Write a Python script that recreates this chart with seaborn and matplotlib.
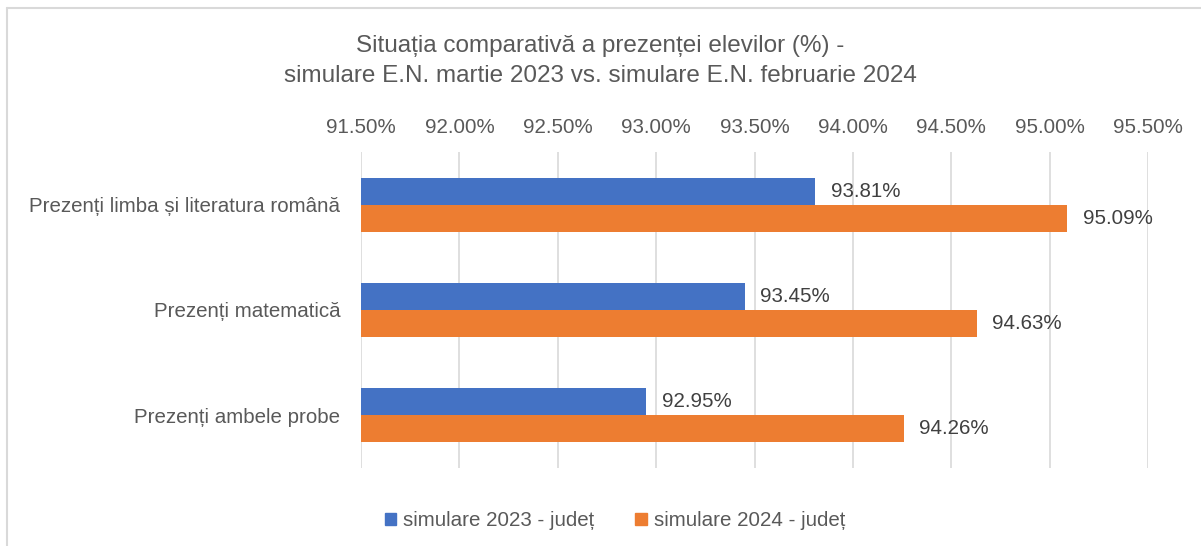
import matplotlib
matplotlib.use("Agg")
import matplotlib.pyplot as plt
import seaborn as sns
import pandas as pd
from matplotlib.patches import Rectangle
from matplotlib.ticker import FuncFormatter, MultipleLocator

categories = ["Prezenți limba și literatura română", "Prezenți matematică", "Prezenți ambele probe"]
series_names = ["simulare 2023 - județ", "simulare 2024 - județ"]
values_2023 = [93.81, 93.45, 92.95]
values_2024 = [95.09, 94.63, 94.26]
title_text = "Situația comparativă a prezenței elevilor (%) -\nsimulare E.N. martie 2023 vs. simulare E.N. februarie 2024"

df = pd.DataFrame({
    "cat": categories * 2,
    "serie": [series_names[0]] * 3 + [series_names[1]] * 3,
    "val": values_2023 + values_2024,
})

sns.set_theme(style="white")
plt.rcParams["font.family"] = ["Liberation Sans", "DejaVu Sans"]
text_color = "#595959"
colors = ["#4472C4", "#ED7D31"]
fs = 14.8

fig = plt.figure(figsize=(12.01, 5.46), dpi=100)
ax = fig.add_axes([361/1201, 1 - 468/546, (1148-361)/1201, (468-152)/546])

sns.barplot(data=df, y="cat", x="val", hue="serie", orient="h",
            palette=colors, saturation=1, width=0.51, gap=0, linewidth=0,
            ax=ax, legend=False)

ax.set_xlim(91.5, 95.5)
ax.xaxis.set_major_locator(MultipleLocator(0.5))
ax.xaxis.tick_top()
ax.xaxis.set_major_formatter(FuncFormatter(lambda v, p: f"{v:.2f}%"))
ax.tick_params(axis="x", length=0, pad=11, labelsize=fs, colors=text_color)
ax.tick_params(axis="y", length=0, pad=15, labelsize=fs, colors=text_color)
ax.grid(axis="x", color="#D9D9D9", linewidth=1.2)
ax.set_axisbelow(True)
for s in ax.spines.values():
    s.set_visible(False)
ax.set_xlabel("")
ax.set_ylabel("")

for container in ax.containers:
    ax.bar_label(container, labels=[f"{b.get_width():.2f}%" for b in container],
                 padding=11, fontsize=fs, color="#404040")

fig.text(0.5, 1 - 61/546, title_text, ha="center", va="center",
         fontsize=17.5, color=text_color, linespacing=1.5)

handles = [Rectangle((0, 0), 1, 1, color=c) for c in colors]
fig.legend(handles, series_names, loc="center", bbox_to_anchor=(0.512, 1 - 521/546),
           ncol=2, frameon=False, fontsize=fs, labelcolor=text_color,
           handlelength=0.55, handleheight=0.55, handletextpad=0.35, columnspacing=2.0)

# chart frame (partially visible)
fig.add_artist(plt.Line2D([7/1201, 7/1201], [0, 1 - 8/546], transform=fig.transFigure,
                          color="#D9D9D9", linewidth=1.5))
fig.add_artist(plt.Line2D([7/1201, 1], [1 - 8/546, 1 - 8/546], transform=fig.transFigure,
                          color="#D9D9D9", linewidth=1.5))

fig.savefig("out.png", dpi=100, facecolor="white")
